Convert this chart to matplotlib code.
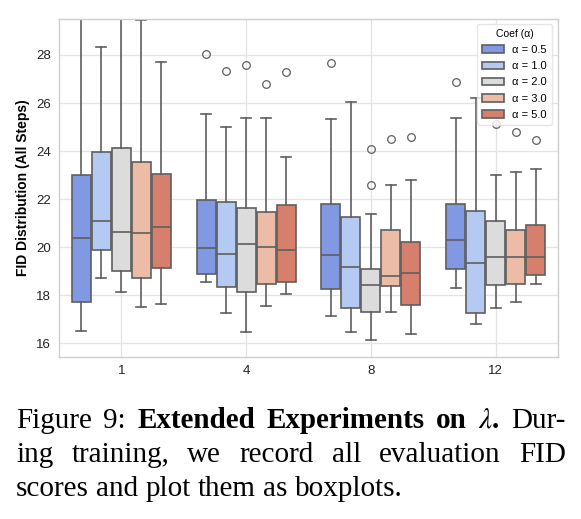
import numpy as np
import matplotlib
matplotlib.use("Agg")
import matplotlib.pyplot as plt
import matplotlib.patches as mpatches
import seaborn as sns

# x groups and hue levels
steps = ["1", "4", "8", "12"]
alphas = [0.5, 1.0, 2.0, 3.0, 5.0]

# box stats, one row per step group, one value per alpha
q1 = [[17.70, 19.88, 19.00, 18.69, 19.11],
      [18.86, 18.35, 18.14, 18.45, 18.53],
      [18.25, 17.46, 17.28, 18.38, 17.57],
      [19.10, 17.26, 18.42, 18.45, 18.82]]
med = [[20.36, 21.10, 20.61, 20.60, 20.85],
       [19.95, 19.70, 20.13, 20.01, 19.89],
       [19.68, 19.15, 18.43, 18.78, 18.90],
       [20.28, 19.32, 19.60, 19.60, 19.57]]
q3 = [[23.00, 23.97, 24.14, 23.53, 23.03],
      [21.94, 21.88, 21.61, 21.47, 21.74],
      [21.79, 21.26, 19.07, 20.71, 20.22],
      [21.78, 21.49, 21.07, 20.71, 20.90]]
whislo = [[16.50, 18.69, 18.11, 17.49, 17.63],
          [18.55, 17.24, 16.45, 17.55, 18.03],
          [17.14, 16.47, 16.14, 17.28, 16.38],
          [18.29, 16.78, 17.45, 17.72, 18.47]]
whishi = [[31.00, 28.33, 30.50, 29.45, 27.70],
          [25.56, 25.01, 25.36, 25.36, 23.76],
          [25.33, 26.05, 21.38, 22.60, 22.78],
          [25.39, 26.19, 22.99, 23.11, 23.24]]
fliers = [[[], [], [], [], []],
          [[28.04], [27.33], [27.57], [26.80], [27.28]],
          [[27.65], [], [24.10, 22.60], [24.49], [24.57]],
          [[26.86], [], [25.14], [24.78], [24.46]]]

colors = [sns.desaturate(c, 0.75) for c in sns.color_palette("coolwarm", len(alphas))]
edge = "#5f5f5f"

plt.rcParams["font.family"] = ["Liberation Sans", "DejaVu Sans"]
plt.rcParams["mathtext.fontset"] = "stix"

fig = plt.figure(figsize=(5.81, 5.19), dpi=100)
ax = fig.add_axes([0.1015, 0.3127, 0.859, 0.6507])

ax.set_axisbelow(True)
ax.grid(True, color="#e3e3e3", linewidth=0.9)
for s in ax.spines.values():
    s.set_color("#cfcfcf")
    s.set_linewidth(1.0)

bw = 0.16
for i in range(len(steps)):
    for j in range(len(alphas)):
        st = [dict(med=med[i][j], q1=q1[i][j], q3=q3[i][j],
                   whislo=whislo[i][j], whishi=whishi[i][j],
                   fliers=fliers[i][j])]
        pos = i + (j - 2) * bw
        ax.bxp(st, positions=[pos], widths=bw * 0.95, patch_artist=True,
               showfliers=True, manage_ticks=False,
               boxprops=dict(facecolor=colors[j], edgecolor=edge, linewidth=1.2),
               medianprops=dict(color=edge, linewidth=1.2),
               whiskerprops=dict(color=edge, linewidth=1.2),
               capprops=dict(color=edge, linewidth=1.2),
               capwidths=bw * 0.5,
               flierprops=dict(marker="o", markerfacecolor="none",
                               markeredgecolor=edge, markersize=5.5,
                               markeredgewidth=0.9))

ax.set_xlim(-0.5, len(steps) - 0.5)
ax.set_ylim(15.43, 29.5)
ax.set_xticks(range(len(steps)))
ax.set_xticklabels(steps)
ax.set_yticks(np.arange(16, 29, 2))
ax.tick_params(axis="both", length=0, labelsize=9.5, labelcolor="#222222", pad=6)
ax.set_ylabel("FID Distribution (All Steps)", fontsize=10, fontweight="bold")

handles = [mpatches.Patch(facecolor=colors[j], edgecolor=edge, linewidth=1.2,
                          label="α = %.1f" % a) for j, a in enumerate(alphas)]
leg = ax.legend(handles=handles, title="Coef (α)", loc="upper right",
                fontsize=8, title_fontsize=7.5, frameon=True,
                bbox_to_anchor=(0.988, 0.985), borderaxespad=0,
                handlelength=1.9, labelspacing=0.55, borderpad=0.45)
leg.get_frame().set_edgecolor("#e0e0e0")

# caption, justified by hand
fs = 21
x0, x1 = 16 / 581, 566 / 581
renderer = fig.canvas.get_renderer()


def put_line(words, y, justify):
    texts = [fig.text(0, y, w, fontsize=fs, fontweight=wt,
                      family="Liberation Serif", va="baseline")
             for w, wt in words]
    widths = [t.get_window_extent(renderer).width / fig.bbox.width for t in texts]
    if justify:
        gap = (x1 - x0 - sum(widths)) / (len(words) - 1)
    else:
        gap = 0.25 * fs / 72 * 100 / fig.bbox.width
    x = x0
    for t, w in zip(texts, widths):
        t.set_x(x)
        x += w + gap


line1 = [("Figure", "normal"), ("9:", "normal"), ("Extended", "bold"),
         ("Experiments", "bold"), ("on", "bold"), (r"$\lambda$.", "bold"),
         ("Dur-", "normal")]
line2 = [(w, "normal") for w in "ing training, we record all evaluation FID".split()]
line3 = [(w, "normal") for w in "scores and plot them as boxplots.".split()]
put_line(line1, 1 - 428 / 519, True)
put_line(line2, 1 - 462 / 519, True)
put_line(line3, 1 - 496 / 519, False)

fig.savefig("out.png", dpi=100)
